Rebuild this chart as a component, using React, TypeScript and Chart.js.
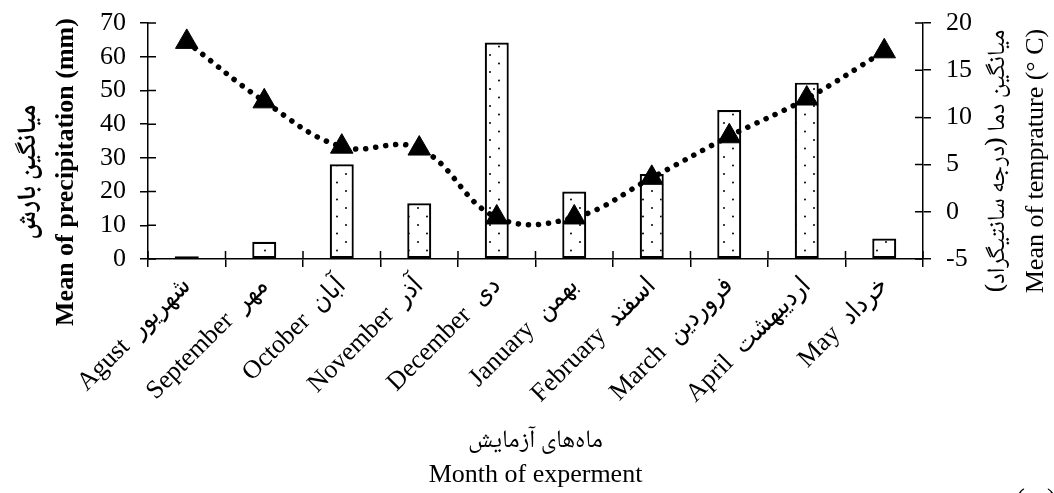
import React, { useEffect, useRef } from 'react';
import { Chart, registerables } from 'chart.js';

Chart.register(...registerables);

// ---------- data ----------
const englishMonths = ['Agust', 'September', 'October', 'November', 'December', 'January', 'February', 'March', 'April', 'May'];
const persianMonths = ['شهریور', 'مهر', 'آبان', 'آذر', 'دی', 'بهمن', 'اسفند', 'فروردین', 'اردیبهشت', 'خرداد'];
const precipitation = [0.8, 5.1, 28.1, 16.5, 64.2, 20.0, 25.2, 44.2, 52.3, 6.1];
const temperature = [18.0, 11.7, 6.9, 6.7, -0.6, -0.6, 3.6, 8.0, 12.0, 17.0];
const precipTickValues = [0, 10, 20, 30, 40, 50, 60, 70];
const tempTickValues = [-5, 0, 5, 10, 15, 20];
const leftTitle = ['میانگین بارش', 'Mean of precipitation (mm)'];
const rightTitle = ['میانگین دما (درجه سانتیگراد)', 'Mean of temprature (° C)'];
const bottomTitle = ['ماه‌های آزمایش', 'Month of experment'];
const panelLabel = '(ب)';

const SERIF = "'Liberation Serif', 'Times New Roman', 'DejaVu Sans Condensed', 'DejaVu Sans', serif";
const FA = "'Noto Naskh Arabic', 'Noto Sans Arabic', 'DejaVu Sans', sans-serif";

function setFitFont(ctx: CanvasRenderingContext2D, text: string, weight: string, target: number) {
  ctx.font = `${weight} 26px ${FA}`;
  const w = ctx.measureText(text).width || 1;
  const size = Math.min(30, (26 * target) / w);
  ctx.font = `${weight} ${size}px ${FA}`;
}

function drawVertical(ctx: CanvasRenderingContext2D, text: string, x: number, y: number, baseline: CanvasTextBaseline, rtl: boolean) {
  ctx.save();
  ctx.translate(x, y);
  ctx.rotate(-Math.PI / 2);
  ctx.textAlign = 'center';
  ctx.textBaseline = baseline;
  (ctx as any).direction = rtl ? 'rtl' : 'ltr';
  ctx.fillText(text, 0, 0);
  ctx.restore();
}

const decorPlugin = {
  id: 'decor',
  afterDraw(chart: any) {
    const ctx: CanvasRenderingContext2D = chart.ctx;
    const { x, y, y1 } = chart.scales;
    const area = chart.chartArea;
    ctx.save();
    // inward halves of the crossing tick marks
    ctx.strokeStyle = '#000';
    ctx.lineWidth = 1.5;
    ctx.beginPath();
    for (let i = 0; i <= englishMonths.length; i++) {
      const px = x.getPixelForValue(i - 0.5);
      ctx.moveTo(px, x.top);
      ctx.lineTo(px, x.top - 8);
    }
    y.ticks.forEach((_: any, i: number) => {
      const py = y.getPixelForTick(i);
      ctx.moveTo(y.right, py);
      ctx.lineTo(y.right + 8, py);
    });
    y1.ticks.forEach((_: any, i: number) => {
      const py = y1.getPixelForTick(i);
      ctx.moveTo(y1.left, py);
      ctx.lineTo(y1.left - 8, py);
    });
    ctx.stroke();

    ctx.fillStyle = '#000';
    // left title
    setFitFont(ctx, leftTitle[0], 'bold', 135);
    drawVertical(ctx, leftTitle[0], 32, 172, 'middle', true);
    ctx.font = `bold 26px ${SERIF}`;
    drawVertical(ctx, leftTitle[1], 73, 172, 'alphabetic', false);

    // right title
    setFitFont(ctx, rightTitle[0], 'normal', 263);
    drawVertical(ctx, rightTitle[0], 1001, 161, 'middle', true);
    ctx.font = `26px ${SERIF}`;
    drawVertical(ctx, rightTitle[1], 1043, 161, 'alphabetic', false);

    // bottom title
    const cx = (area.left + area.right) / 2;
    ctx.textAlign = 'center';
    setFitFont(ctx, bottomTitle[0], 'normal', 135);
    ctx.textBaseline = 'middle';
    (ctx as any).direction = 'rtl';
    ctx.fillText(bottomTitle[0], cx, 444);
    (ctx as any).direction = 'ltr';
    ctx.font = `26px ${SERIF}`;
    ctx.textBaseline = 'alphabetic';
    ctx.fillText(bottomTitle[1], cx, 482);

    // panel label
    ctx.font = `26px ${SERIF}`;
    ctx.textBaseline = 'top';
    ctx.textAlign = 'center';
    ctx.fillText(panelLabel, 1036, 486);
    ctx.restore();
  },
};

function makePattern(): CanvasPattern | string {
  const c = document.createElement('canvas');
  c.width = 18;
  c.height = 17;
  const g = c.getContext('2d');
  if (!g) return '#fff';
  g.fillStyle = '#fff';
  g.fillRect(0, 0, 18, 17);
  g.fillStyle = '#000';
  g.beginPath();
  g.arc(4, 4, 1, 0, Math.PI * 2);
  g.arc(13, 12.5, 1, 0, Math.PI * 2);
  g.fill();
  return g.createPattern(c, 'repeat') || '#fff';
}

export default function App() {
  const ref = useRef<HTMLCanvasElement>(null);

  useEffect(() => {
    const canvas = ref.current;
    if (!canvas) return;
    Chart.defaults.color = '#000';
    Chart.defaults.font.family = SERIF;
    const labels = englishMonths.map((en, i) => `${en}  ${persianMonths[i]}`);
    const pattern = makePattern();

    const chart = new Chart(canvas, {
      type: 'bar',
      data: {
        labels,
        datasets: [
          {
            type: 'line',
            label: 'temperature',
            data: temperature,
            yAxisID: 'y1',
            order: 0,
            borderColor: '#000',
            borderWidth: 5.5,
            borderDash: [0.1, 10],
            borderCapStyle: 'round',
            tension: 0.4,
            fill: false,
            pointStyle: 'triangle',
            pointRadius: 13,
            pointBackgroundColor: '#000',
            pointBorderColor: '#000',
            pointBorderWidth: 1,
          } as any,
          {
            type: 'bar',
            label: 'precipitation',
            data: precipitation,
            yAxisID: 'y',
            order: 1,
            backgroundColor: pattern as any,
            borderColor: '#000',
            borderWidth: 2.2,
            borderSkipped: false,
            categoryPercentage: 1,
            barPercentage: 0.31,
          } as any,
        ],
      },
      options: {
        responsive: false,
        animation: false,
        layout: { padding: { top: 23, left: 0, right: 0, bottom: 0 } },
        plugins: { legend: { display: false }, tooltip: { enabled: false }, title: { display: false } },
        scales: {
          x: {
            type: 'category',
            offset: true,
            grid: { offset: true, drawOnChartArea: false, drawTicks: true, tickLength: 8, color: '#000', lineWidth: 1.5 },
            border: { display: true, color: '#000', width: 1.5 },
            ticks: { minRotation: 45, maxRotation: 45, autoSkip: false, padding: 4, color: '#000', font: { size: 26, family: SERIF } },
            afterFit: (s: any) => { s.height = 234; },
          },
          y: {
            type: 'linear',
            position: 'left',
            min: precipTickValues[0],
            max: precipTickValues[precipTickValues.length - 1],
            ticks: { stepSize: precipTickValues[1] - precipTickValues[0], autoSkip: false, padding: 14, color: '#000', font: { size: 26, family: SERIF } },
            grid: { drawOnChartArea: false, drawTicks: true, tickLength: 8, color: '#000', lineWidth: 1.5 },
            border: { display: true, color: '#000', width: 1.5 },
            afterFit: (s: any) => { s.width = 148; s.paddingTop = 0; s.paddingBottom = 0; },
          },
          y1: {
            type: 'linear',
            position: 'right',
            min: tempTickValues[0],
            max: tempTickValues[tempTickValues.length - 1],
            ticks: { stepSize: tempTickValues[1] - tempTickValues[0], autoSkip: false, padding: 15, color: '#000', font: { size: 26, family: SERIF } },
            grid: { drawOnChartArea: false, drawTicks: true, tickLength: 8, color: '#000', lineWidth: 1.5 },
            border: { display: true, color: '#000', width: 1.5 },
            afterFit: (s: any) => { s.width = 131; s.paddingTop = 0; s.paddingBottom = 0; },
          },
        },
      } as any,
      plugins: [decorPlugin],
    });
    return () => chart.destroy();
  }, []);

  return (
    <div style={{ position: 'fixed', left: 0, top: 0, width: 1054, height: 493, background: '#fff', overflow: 'hidden' }}>
      <canvas ref={ref} width={1054} height={493} style={{ display: 'block', width: 1054, height: 493 }} />
    </div>
  );
}
